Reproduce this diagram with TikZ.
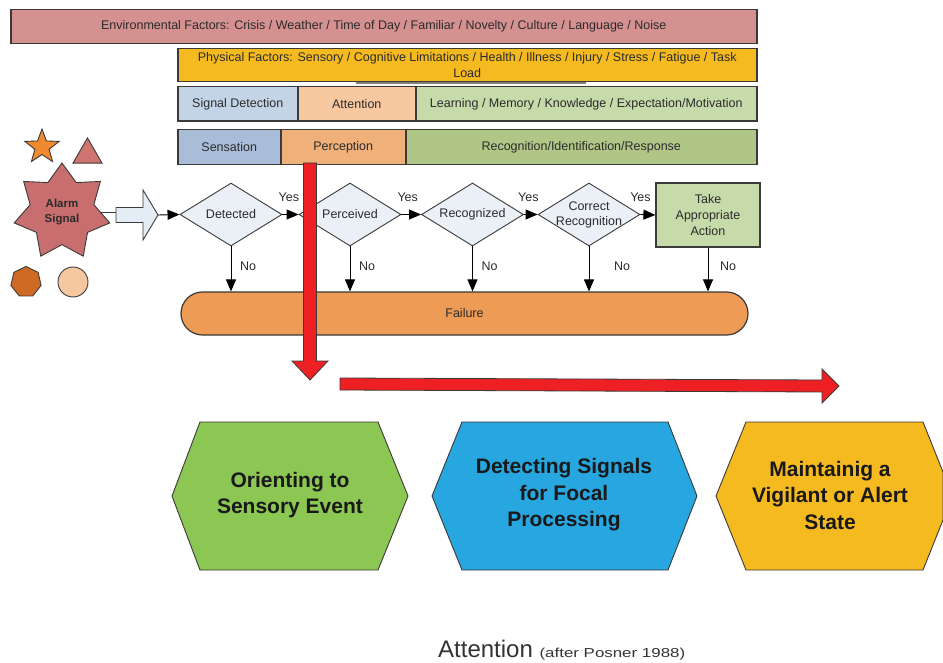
\documentclass[tikz,border=0pt]{standalone}
\usepackage{fontspec}
\setmainfont{Liberation Sans}
\usetikzlibrary{shapes.geometric,arrows.meta}

\definecolor{envfill}{HTML}{D4918F}
\definecolor{physfill}{HTML}{F5BA1F}
\definecolor{sdfill}{HTML}{C4D4E7}
\definecolor{attfill}{HTML}{F8C9A1}
\definecolor{lrnfill}{HTML}{C7DBAA}
\definecolor{sensfill}{HTML}{A9BDD8}
\definecolor{percfill}{HTML}{F0B07A}
\definecolor{recfill}{HTML}{B0C687}
\definecolor{diafill}{HTML}{EBF0F6}
\definecolor{failfill}{HTML}{EE9B55}
\definecolor{alarmfill}{HTML}{C86E6E}
\definecolor{starfill}{HTML}{F08A2E}
\definecolor{trifill}{HTML}{D07470}
\definecolor{heptfill}{HTML}{CF6A25}
\definecolor{circfill}{HTML}{F7C8A0}
\definecolor{blkfill}{HTML}{E4ECF5}
\definecolor{redbar}{HTML}{EE2024}
\definecolor{hexgreen}{HTML}{8CC653}
\definecolor{hexblue}{HTML}{27A6DF}
\definecolor{hexyellow}{HTML}{F5BA1F}
\definecolor{edge}{HTML}{3A3A3A}
\definecolor{txt}{HTML}{2B2B2B}

\begin{document}
\begin{tikzpicture}[x=1pt,y=-1pt,
  smallfont/.style={font=\fontsize{12.5}{15}\selectfont},
  band/.style={draw=edge, line width=1.5pt, fill=#1, inner sep=0pt,
    anchor=north west, text=txt, smallfont, align=center},
  dia/.style={diamond, draw=edge, line width=0.9pt, fill=diafill,
    minimum width=102, minimum height=63, inner sep=0pt},
  lbl/.style={text=txt, smallfont, align=center, inner sep=0pt},
  arr/.style={draw=black, line width=0.9pt, -{Triangle[length=12pt,width=10pt]}},
  yes/.style={lbl, yshift=17.5pt},
  no/.style={lbl, xshift=17pt},
  shape2/.style={draw=edge, line width=0.9pt, fill=#1, inner sep=0pt},
  redarrow/.style={draw=edge, line width=0.8pt, fill=redbar},
  hexa/.style={draw=edge, line width=0.9pt, fill=#1},
  hextext/.style={align=center, text=black!90,
    font=\fontsize{21}{26.5}\selectfont\bfseries, inner sep=0pt}
]
\useasboundingbox[fill=white] (0,0) rectangle (943,663);

% factor bands
\node[band=envfill, minimum width=746, minimum height=34] (env) at (10,9)
  {Environmental Factors: Crisis / Weather / Time of Day / Familiar / Novelty / Culture / Language / Noise};
\node[band=physfill, minimum width=579, minimum height=33,
  font=\fontsize{12.5}{16}\selectfont] (phys) at (177,48)
  {Physical Factors: Sensory / Cognitive Limitations / Health / Illness / Injury / Stress / Fatigue / Task\\Load};
\draw[gray, line width=2pt] (356,83.5) -- (586,83.5);

\node[band=sdfill, minimum width=120, minimum height=34.5] (sigdet) at (177,86) {Signal Detection};
\node[band=attfill, minimum width=118, minimum height=34.5] (attn) at (297,86) {Attention};
\node[band=lrnfill, minimum width=341, minimum height=34.5] (learn) at (415,86)
  {Learning / Memory / Knowledge / Expectation/Motivation};

\node[band=sensfill, minimum width=103, minimum height=35] (sens) at (177,129) {Sensation};
\node[band=percfill, minimum width=125, minimum height=35] (perc) at (280,129) {Perception};
\node[band=recfill, minimum width=351, minimum height=35] (recog) at (405,129)
  {Recognition/Identification/Response};

% signal symbols
\node[star, star points=5, star point ratio=2.4, minimum size=36,
  shape2=starfill] (smallstar) at (42,147) {};
\node[regular polygon, regular polygon sides=3, minimum size=33.5,
  shape2=trifill] (tri) at (87.5,154.7) {};
\node[regular polygon, regular polygon sides=7, minimum size=31,
  shape2=heptfill] (hept) at (26,282) {};
\node[circle, minimum size=30, shape2=circfill] (circ) at (73,282) {};
\node[star, star points=7, star point ratio=1.5, minimum size=98,
  shape2=alarmfill, align=center, text=txt,
  font=\fontsize{11.5}{15}\selectfont\bfseries] (alarm) at (62,212) {Alarm\\Signal};

% block arrow from the alarm into the flow
\coordinate (blkTail) at (116,215);
\coordinate (blkTip) at (158,215);
\draw[shape2=blkfill] (116,207.5) -- (143,207.5) -- (143,190) -- (blkTip)
  -- (143,240) -- (143,222.5) -- (116,222.5) -- cycle;
\draw[draw=edge, line width=0.9pt] (alarm.east) -- (alarm.east -| blkTail);

% decision chain
\node[dia] (dDet) at (231,214.5) {};
\node[lbl] (dDetT) at (dDet) {Detected};
\node[dia] (dPerc) at (350,214.5) {};
\node[lbl] (dPercT) at (dPerc) {Perceived};
\node[dia] (dRec) at (472.5,214.5) {};
\node[lbl] (dRecT) at (dRec) {Recognized};
\node[dia] (dCorr) at (589,214.5) {};
\node[lbl, font=\fontsize{12.5}{15}\selectfont] (dCorrT) at (dCorr) {Correct\\Recognition};
\node[draw=edge, line width=1.2pt, fill=lrnfill, minimum width=104, minimum height=64,
  lbl, inner sep=0pt, font=\fontsize{12.5}{16}\selectfont] (take) at (708,215)
  {Take\\Appropriate\\Action};

\node[draw=edge, line width=1.2pt, fill=failfill, minimum width=567, minimum height=43,
  rounded corners=21.5pt, lbl] (fail) at (464.5,313.5) {Failure};

\draw[arr] (blkTip) -- (dDet.west);
\draw[arr] (dDet.east) -- (dPerc.west) node[yes, pos=0.4] {Yes};
\draw[arr] (dPerc.east) -- (dRec.west) node[yes, pos=0.32] {Yes};
\draw[arr] (dRec.east) -- (dCorr.west) node[yes, pos=0.33] {Yes};
\draw[arr] (dCorr.east) -- (take.west) node[yes, pos=0] {Yes};

\draw[arr] (dDet.south) -- (dDet.south |- fail.north) node[no, pos=0.43] {No};
\draw[arr] (dPerc.south) -- (dPerc.south |- fail.north) node[no, pos=0.43] {No};
\draw[arr] (dRec.south) -- (dRec.south |- fail.north) node[no, pos=0.43] {No};
\draw[arr] (dCorr.south) -- (dCorr.south |- fail.north) node[no, pos=0.43, xshift=16pt] {No};
\draw[arr] (take.south) -- (take.south |- fail.north) node[no, pos=0.43, xshift=3pt] {No};

% red flow arrows
\draw[redarrow] (303.5,163) -- (303.5,361) -- (292,361) -- (310,380) -- (328,361)
  -- (316.5,361) -- (316.5,163) -- cycle;
\draw[redarrow] (340,378) -- (822,380) -- (822,369) -- (839,386) -- (822,403)
  -- (822,392) -- (340,390) -- cycle;

% attention networks
\draw[hexa=hexgreen] (172,496) -- (200,422) -- (378,422) -- (408,496) -- (378,570) -- (200,570) -- cycle;
\node[hextext] (orient) at (290,495) {Orienting to\\Sensory Event};
\draw[hexa=hexblue] (432,496) -- (462,422) -- (668,422) -- (697,496) -- (668,570) -- (462,570) -- cycle;
\node[hextext] (detect) at (564,495) {Detecting Signals\\for Focal\\Processing};
\draw[hexa=hexyellow] (716,496) -- (746,422) -- (923,422) -- (943,472) -- (943,520) -- (923,570) -- (746,570) -- cycle;
\node[hextext] (vigil) at (830,495) {Maintainig a\\Vigilant or Alert\\State};

% caption
\node[anchor=base west, inner sep=0pt, text=black!80] (caption) at (438,657)
  {{\fontsize{24}{28}\selectfont Attention }{\fontsize{13}{15}\selectfont\scalebox{1.3}[1]{(after Posner 1988)}}};
\end{tikzpicture}
\end{document}
